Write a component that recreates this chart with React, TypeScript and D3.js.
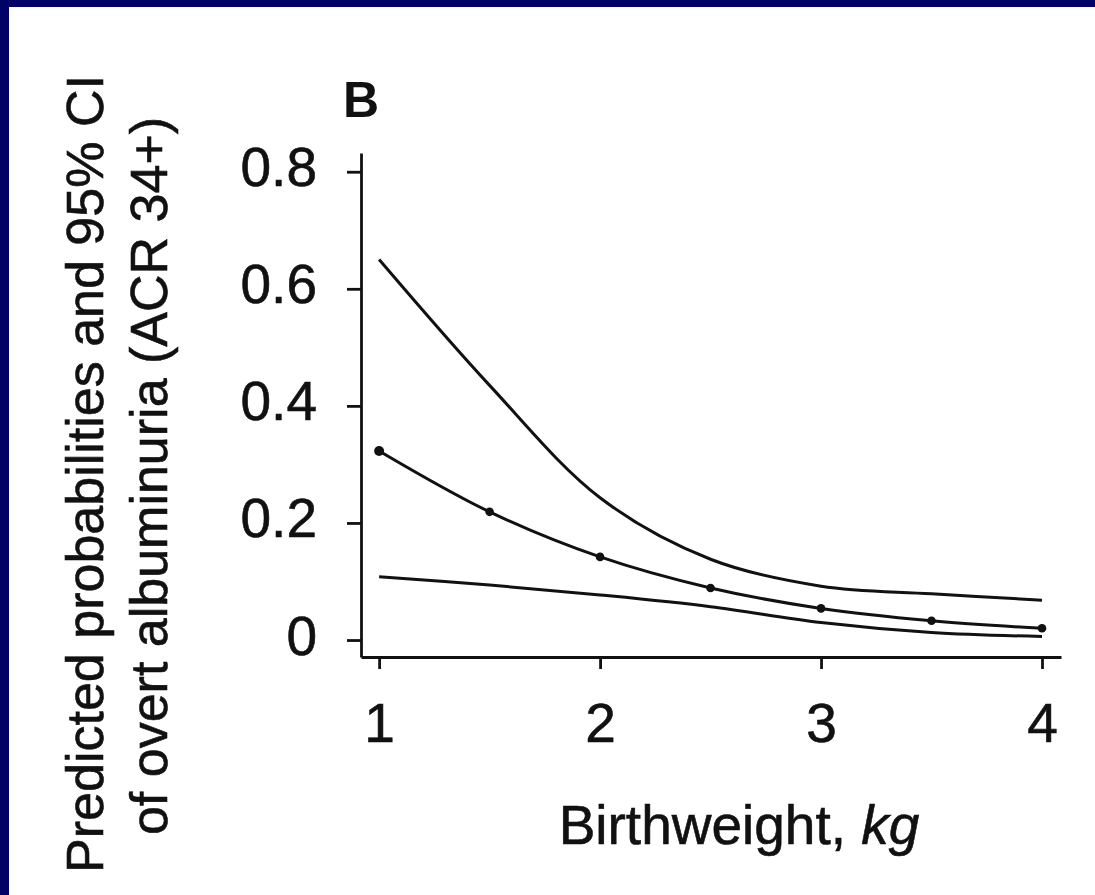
import React, { useEffect, useRef } from "react";
import * as d3 from "d3";

const birthweights = [1, 1.5, 2, 2.5, 3, 3.5, 4];
const predicted = [0.323, 0.219, 0.142, 0.089, 0.054, 0.033, 0.02];
const upperCI = [0.65, 0.435, 0.243, 0.138, 0.092, 0.079, 0.068];
const lowerCI = [0.108, 0.094, 0.077, 0.057, 0.03, 0.013, 0.006];
const xTicks = [1, 2, 3, 4];
const yTicks = [0, 0.2, 0.4, 0.6, 0.8];

const FONT = "'Liberation Sans', Arial, Helvetica, sans-serif";

export default function App() {
  const ref = useRef<SVGSVGElement | null>(null);

  useEffect(() => {
    const svg = d3.select(ref.current);
    svg.selectAll("*").remove();

    const W = 1095, H = 895;
    svg.append("rect").attr("width", W).attr("height", H).attr("fill", "#fff");
    svg.append("rect").attr("x", 0).attr("y", 0).attr("width", W).attr("height", 7).attr("fill", "#020166");
    svg.append("rect").attr("x", 0).attr("y", 0).attr("width", 9).attr("height", H).attr("fill", "#020166");

    const x = d3.scaleLinear().domain([0.918, 4.086]).range([361, 1061]);
    const y = d3.scaleLinear().domain([-0.029, 0.832]).range([657, 153]);

    // Y axis
    const gy = svg.append("g").attr("transform", "translate(361,0)")
      .call(d3.axisLeft(y).tickValues(yTicks).tickSize(14).tickSizeOuter(0).tickPadding(30).tickFormat(d3.format("~g") as any));
    gy.select(".domain").attr("stroke", "#111").attr("stroke-width", 2.8);
    gy.selectAll(".tick line").attr("stroke", "#111").attr("stroke-width", 2.8);
    gy.selectAll(".tick text").attr("font-family", FONT).attr("font-size", 55).attr("fill", "#111")
      .attr("stroke", "#111").attr("stroke-width", 0.6).attr("dy", "0.255em");

    // X axis
    const gx = svg.append("g").attr("transform", "translate(0,657)")
      .call(d3.axisBottom(x).tickValues(xTicks).tickSize(12).tickSizeOuter(0).tickPadding(34).tickFormat(d3.format("d") as any));
    gx.select(".domain").attr("stroke", "#111").attr("stroke-width", 2.8);
    gx.selectAll(".tick line").attr("stroke", "#111").attr("stroke-width", 2.8);
    gx.selectAll(".tick text").attr("font-family", FONT).attr("font-size", 55).attr("fill", "#111")
      .attr("stroke", "#111").attr("stroke-width", 0.6);

    const line = d3.line<number>()
      .x((_, i) => x(birthweights[i]))
      .y((d) => y(d))
      .curve(d3.curveCatmullRom.alpha(0.5));

    [upperCI, lowerCI, predicted].forEach((s) => {
      svg.append("path").attr("d", line(s) as string).attr("fill", "none")
        .attr("stroke", "#111").attr("stroke-width", 3);
    });

    svg.append("g").selectAll("circle").data(predicted).join("circle")
      .attr("cx", (_, i) => x(birthweights[i]))
      .attr("cy", (d) => y(d))
      .attr("r", (_, i) => (i === 0 ? 5 : 4.3))
      .attr("fill", "#111");

    // Panel letter
    svg.append("text").attr("x", 343).attr("y", 117).attr("font-family", FONT)
      .attr("font-weight", "bold").attr("font-size", 50).attr("fill", "#111").text("B");

    // X title
    const xt = svg.append("text").attr("x", 739).attr("y", 844).attr("text-anchor", "middle")
      .attr("font-family", FONT).attr("font-size", 55).attr("fill", "#111")
      .attr("stroke", "#111").attr("stroke-width", 0.6);
    xt.append("tspan").text("Birthweight, ");
    xt.append("tspan").attr("font-style", "italic").text("kg");

    // Y title
    svg.append("text").attr("transform", "translate(103,474) rotate(-90)").attr("text-anchor", "middle")
      .attr("font-family", FONT).attr("font-size", 52).attr("fill", "#111")
      .attr("stroke", "#111").attr("stroke-width", 0.6)
      .text("Predicted probabilities and 95% CI");
    svg.append("text").attr("transform", "translate(167,476) rotate(-90)").attr("text-anchor", "middle")
      .attr("font-family", FONT).attr("font-size", 52).attr("fill", "#111")
      .attr("stroke", "#111").attr("stroke-width", 0.6)
      .text("of overt albuminuria (ACR 34+)");
  }, []);

  return (
    <svg ref={ref} width={1095} height={895}
      style={{ position: "absolute", left: 0, top: 0, display: "block" }} />
  );
}
